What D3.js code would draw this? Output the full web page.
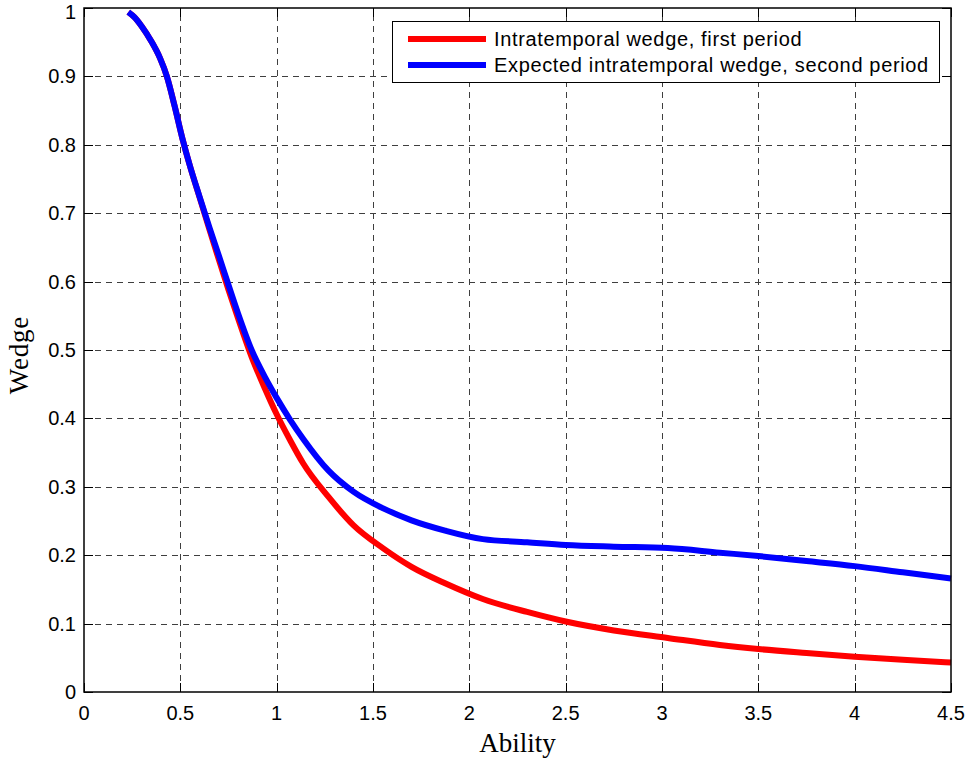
<!DOCTYPE html>
<html>
<head>
<meta charset="utf-8">
<script src="https://cdn.jsdelivr.net/npm/d3@7"></script>
<style>
  body { margin: 0; background: #fff; }
  text { font-family: "Liberation Sans", Arial, sans-serif; fill: #000; }
  .lbl { font-family: "Liberation Serif", "Times New Roman", serif; }
</style>
</head>
<body>
<div id="chart"></div>
<script>
var width = 969,
height = 761,
margin = {left: 84, right: 18, top: 8, bottom: 69};

// Data
var ability = [0.23, 0.26, 0.3, 0.35, 0.394, 0.43, 0.47, 0.51, 0.55, 0.6, 0.65, 0.7, 0.75, 0.8, 0.87, 0.94, 1.0, 1.07, 1.138, 1.268, 1.398, 1.553, 1.70, 1.874, 2.07, 2.3, 2.5, 2.75, 3.03, 3.3, 3.5, 3.75, 4.0, 4.25, 4.5];
var wedgeFirst = [0.994, 0.987, 0.973, 0.951, 0.927, 0.900, 0.857, 0.810, 0.769, 0.723, 0.677, 0.632, 0.588, 0.546, 0.490, 0.443, 0.406, 0.368, 0.334, 0.2855, 0.244, 0.210, 0.183, 0.159, 0.136, 0.117, 0.103, 0.090, 0.079, 0.0687, 0.0628, 0.057, 0.0517, 0.047, 0.043];
var wedgeSecond = [0.994, 0.987, 0.973, 0.951, 0.927, 0.900, 0.857, 0.810, 0.769, 0.724, 0.680, 0.638, 0.595, 0.553, 0.500, 0.460, 0.430, 0.398, 0.370, 0.324, 0.293, 0.2685, 0.251, 0.236, 0.2235, 0.219, 0.215, 0.2125, 0.2105, 0.2037, 0.1988, 0.1915, 0.184, 0.175, 0.166];
var xTicks = [0, 0.5, 1, 1.5, 2, 2.5, 3, 3.5, 4, 4.5];
var yTicks = [0, 0.1, 0.2, 0.3, 0.4, 0.5, 0.6, 0.7, 0.8, 0.9, 1];
var seriesNames = ["Intratemporal wedge, first period", "Expected intratemporal wedge, second period"];
var seriesColors = ["#ff0000", "#0000ff"];

var svg = d3.select("#chart").append("svg")
.attr("width", width)
.attr("height", height);

var x = d3.scaleLinear().domain([0, 4.5]).range([margin.left, width - margin.right]);
var y = d3.scaleLinear().domain([0, 1]).range([height - margin.bottom, margin.top]);

var x0 = x.range()[0], x1 = x.range()[1], y0 = y.range()[0], y1 = y.range()[1];

// grid
var grid = svg.append("g").attr("stroke", "#000").attr("stroke-width", 1)
.attr("stroke-dasharray", "6,5").attr("opacity", 0.75);

grid.selectAll(".gx").data(xTicks.slice(1, -1)).enter().append("line")
.attr("x1", function(d) { return Math.round(x(d)) + 0.5; })
.attr("x2", function(d) { return Math.round(x(d)) + 0.5; })
.attr("y1", y0).attr("y2", y1);

grid.selectAll(".gy").data(yTicks.slice(1, -1)).enter().append("line")
.attr("y1", function(d) { return Math.round(y(d)) + 0.5; })
.attr("y2", function(d) { return Math.round(y(d)) + 0.5; })
.attr("x1", x0).attr("x2", x1);

// inward ticks on all sides
var tl = 9;
var ticks = svg.append("g").attr("stroke", "#000").attr("stroke-width", 1);
xTicks.forEach(function(d) {
	var px = Math.round(x(d)) + 0.5;
	ticks.append("line").attr("x1", px).attr("x2", px).attr("y1", y0).attr("y2", y0 - tl);
	ticks.append("line").attr("x1", px).attr("x2", px).attr("y1", y1).attr("y2", y1 + tl);
});
yTicks.forEach(function(d) {
	var py = Math.round(y(d)) + 0.5;
	ticks.append("line").attr("y1", py).attr("y2", py).attr("x1", x0).attr("x2", x0 + tl);
	ticks.append("line").attr("y1", py).attr("y2", py).attr("x1", x1).attr("x2", x1 - tl);
});

// curves
var line = d3.line()
.curve(d3.curveMonotoneX)
.x(function(d) { return x(d[0]); })
.y(function(d) { return y(d[1]); });

[wedgeFirst, wedgeSecond].forEach(function(vals, i) {
	svg.append("path")
	.datum(ability.map(function(a, j) { return [a, vals[j]]; }))
	.attr("fill", "none")
	.attr("stroke", seriesColors[i])
	.attr("stroke-width", 6)
	.attr("stroke-linejoin", "round")
	.attr("d", line);
});

// frame
svg.append("rect")
.attr("x", x0).attr("y", y1)
.attr("width", x1 - x0).attr("height", y0 - y1)
.attr("fill", "none").attr("stroke", "#000").attr("stroke-width", 1.5);

// tick labels
svg.append("g").selectAll("text").data(xTicks).enter().append("text")
.attr("x", function(d) { return x(d); })
.attr("y", y0 + 28)
.attr("text-anchor", "middle")
.attr("font-size", 20)
.text(function(d) { return d3.format("")(d); });

svg.append("g").selectAll("text").data(yTicks).enter().append("text")
.attr("x", x0 - 8)
.attr("y", function(d) { return Math.max(y(d) + 7, 19); })
.attr("text-anchor", "end")
.attr("font-size", 20)
.text(function(d) { return d3.format("")(d); });

// axis labels
svg.append("text").attr("class", "lbl")
.attr("x", (x0 + x1) / 2).attr("y", 752)
.attr("text-anchor", "middle").attr("font-size", 27)
.text("Ability");

svg.append("text").attr("class", "lbl")
.attr("transform", "translate(28,355) rotate(-90)")
.attr("text-anchor", "middle").attr("font-size", 27)
.attr("letter-spacing", 0.8)
.text("Wedge");

// legend
var lg = svg.append("g");
lg.append("rect")
.attr("x", 392.5).attr("y", 21.5).attr("width", 547).attr("height", 61)
.attr("fill", "#fff").attr("stroke", "#000").attr("stroke-width", 1);

seriesNames.forEach(function(name, i) {
	var ly = 39 + i * 26;
	lg.append("line")
	.attr("x1", 408).attr("x2", 486).attr("y1", ly).attr("y2", ly)
	.attr("stroke", seriesColors[i]).attr("stroke-width", 6);
	lg.append("text")
	.attr("x", 494).attr("y", ly + 7)
	.attr("font-size", 20)
	.attr("letter-spacing", 0.65)
	.text(name);
});
</script>
</body>
</html>
